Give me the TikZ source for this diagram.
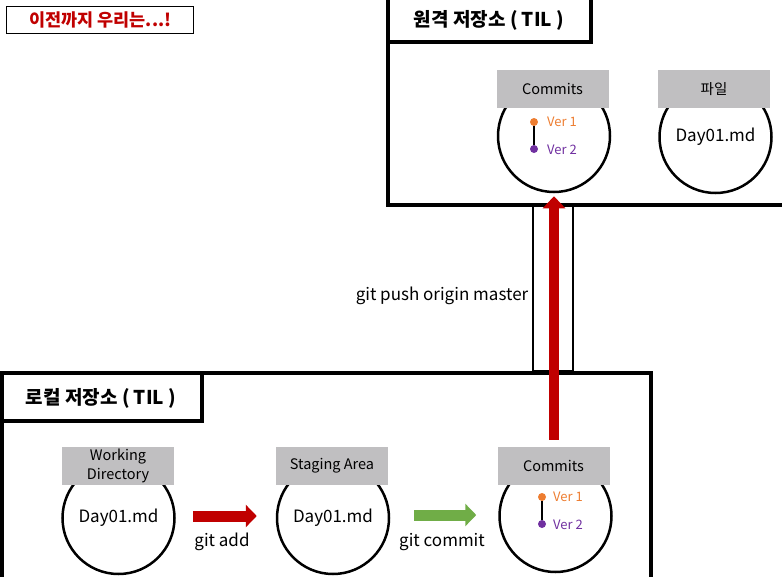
\documentclass[tikz,border=0pt]{standalone}
\usepackage{fontspec}
\setmainfont{Noto Sans CJK KR}
\usetikzlibrary{arrows.meta,calc}
\definecolor{gbox}{HTML}{C0BFC1}
\definecolor{dred}{HTML}{C00000}
\definecolor{ggreen}{HTML}{70AD47}
\definecolor{orng}{HTML}{ED7D31}
\definecolor{purp}{HTML}{7030A0}
\tikzset{
  frameline/.style={line width=4pt, draw=black},
  titletext/.style={font=\fontsize{19}{21}\selectfont\bfseries, inner sep=0pt},
  store/.style={circle, draw=black, line width=2.5pt, minimum size=112pt, inner sep=0pt, font=\fontsize{17}{19}\selectfont},
  graytab/.style={fill=gbox, minimum width=112pt, minimum height=38pt, inner sep=0pt, font=\fontsize{14.5}{16}\selectfont, align=center},
  vertext/.style={font=\fontsize{13}{15}\selectfont, anchor=west, inner sep=0pt},
  verdot/.style={circle, inner sep=0pt, minimum size=8pt},
  cmdtext/.style={font=\fontsize{17}{19}\selectfont, inner sep=0pt},
  fatarrow/.style={line width=11pt, -{Triangle[length=11pt,width=22pt]}},
}
\begin{document}
\begin{tikzpicture}[x=1pt,y=-1pt]
\useasboundingbox (0,0) rectangle (782,576);
\clip (0,0) rectangle (782,576);

% remote frame
\draw[frameline] (388,-20) |- (800,204.5);
\draw[frameline] (388,41.5) -| (590.5,-20);
\node[titletext] (rtitle) at (489,20) {원격 저장소 ( TIL )};

% local frame
\draw[frameline] (2,600) |- (651,373) -- (651,600);
\draw[frameline] (2,420.5) -| (202,373);
\node[titletext] (ltitle) at (101,398) {로컬 저장소 ( TIL )};

% channel between repositories
\node[draw=black, line width=1.5pt, minimum width=40pt, minimum height=166pt, inner sep=0pt] (chan) at (553,288) {};

% top-left note
\node[draw=black, line width=1.2pt, minimum width=187pt, minimum height=27pt, inner sep=0pt,
      text=dred, font=\fontsize{17.5}{19}\selectfont\bfseries] (note) at (100.25,20) {이전까지 우리는...!};

% remote commits
\node[store] (rc) at (554,136) {};
\node[graytab] (rctab) at (552.5,89) {Commits};
\node[verdot, fill=orng] (rv1) at (534,122) {};
\node[verdot, fill=purp] (rv2) at (534,149) {};
\draw[line width=2pt] (rv1) -- (rv2);
\node[vertext, text=orng] (rv1t) at (547,122) {Ver 1};
\node[vertext, text=purp] (rv2t) at (547,149.5) {Ver 2};

% remote file
\node[store] (rf) at (715.5,137) {Day01.md};
\node[graytab] (rftab) at (714,89) {파일};

% local working directory
\node[store] (wd) at (118.5,518) {Day01.md};
\node[graytab, font=\fontsize{14.5}{19}\selectfont] (wdtab) at (118,466) {Working\\Directory};

% staging area
\node[store] (sa) at (333,518) {Day01.md};
\node[graytab] (satab) at (332,466) {Staging Area};

% local commits
\node[store] (lc) at (555.5,516) {};
\node[graytab] (lctab) at (553.5,466) {Commits};
\node[verdot, fill=orng] (lv1) at (542,497) {};
\node[verdot, fill=purp] (lv2) at (542,524) {};
\draw[line width=2pt] (lv1) -- (lv2);
\node[vertext, text=orng] (lv1t) at (553,497) {Ver 1};
\node[vertext, text=purp] (lv2t) at (553,524.5) {Ver 2};

% arrows
\draw[fatarrow, dred, shorten <=17pt, shorten >=19pt] (wd.east |- 0,516) -- (sa.west |- 0,516);
\draw[fatarrow, ggreen, shorten <=24pt, shorten >=22pt] (sa.east |- 0,515) -- (lc.west |- 0,515);
\draw[line width=10.5pt, dred, -{Triangle[length=12pt,width=22pt]}, shorten <=7pt, shorten >=3pt] (lctab.north -| 554,0) -- (rc.south -| 554,0);

% labels
\node[cmdtext] (addt) at (222,542) {git add};
\node[cmdtext] (committ) at (442,542) {git commit};
\node[cmdtext] (pusht) at (442,296) {git push origin master};
\end{tikzpicture}
\end{document}
